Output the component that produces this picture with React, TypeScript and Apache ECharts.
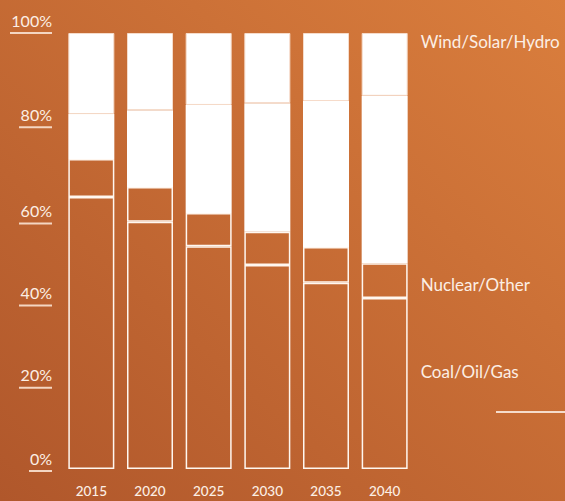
import React, { useEffect, useRef } from "react";
import * as echarts from "echarts";

const years = ["2015", "2020", "2025", "2030", "2035", "2040"];
const coalOilGas = [62.4, 56.7, 51.1, 46.8, 42.7, 39.2];
const nuclearOther = [8.7, 8.0, 7.6, 7.6, 8.2, 8.0];
const renewLower = [10.3, 17.6, 24.8, 29.5, 33.5, 38.4];
const renewUpper = [18.6, 17.7, 16.5, 16.1, 15.6, 14.4];
const yTickLabels = ["0%", "20%", "40%", "60%", "80%", "100%"];

// per-tick spacer heights (style only) to mimic the hand-placed labels
const labelTopPad = [0, 0, 0, 8, 0, 0];
const labelBottomPad = [20, 12, 2, 0, 10, 24];

const FONT = "Lato, 'Open Sans', sans-serif";
const TXT = "#fcefe5";

export default function App() {
  const ref = useRef<HTMLDivElement>(null);
  useEffect(() => {
    if (!ref.current) return;
    const chart = echarts.init(ref.current, null, { renderer: "svg" });
    const last = years.length - 1;
    const withEndLabel = (arr: number[], offsetY: number) =>
      arr.map((v, i) =>
        i === last
          ? {
              value: v,
              label: {
                show: true,
                position: "right",
                distance: 13,
                offset: [0, offsetY],
                formatter: "{a}",
                color: TXT,
                fontSize: 17,
                fontFamily: FONT,
              },
            }
          : v
      );
    const rich: any = {
      t: { fontSize: 16, fontFamily: FONT, color: TXT, lineHeight: 24, height: 24 },
      u3: { width: 42, height: 2, lineHeight: 2, backgroundColor: "#f4d6c2" },
      u2: { width: 33, height: 2, lineHeight: 2, backgroundColor: "#f4d6c2" },
      u1: { width: 23, height: 2, lineHeight: 2, backgroundColor: "#f4d6c2" },
    };
    labelTopPad.forEach((h, i) => {
      if (h > 0) rich["s" + i] = { height: h, lineHeight: h };
    });
    labelBottomPad.forEach((h, i) => {
      if (h > 0) rich["b" + i] = { height: h, lineHeight: h };
    });
    const barBorder = { color: "transparent", borderColor: "#fff7f0", borderWidth: 1.5 };
    chart.setOption({
      animation: false,
      backgroundColor: new echarts.graphic.LinearGradient(0, 1, 1, 0, [
        { offset: 0, color: "#b0572b" },
        { offset: 1, color: "#da7e3d" },
      ]),
      grid: { left: 62, right: 151, top: 33, bottom: 32, outerBoundsMode: "none" },
      xAxis: {
        type: "category",
        data: years,
        axisLine: { show: false },
        axisTick: { show: false },
        axisLabel: { color: TXT, fontSize: 13.5, fontFamily: FONT, fontWeight: 500, margin: 15 },
      },
      yAxis: {
        type: "value",
        min: 0,
        max: 100,
        interval: 20,
        splitLine: { show: false },
        axisLine: { show: false },
        axisTick: { show: false },
        axisLabel: {
          margin: 10,
          showMinLabel: true,
          showMaxLabel: true,
          hideOverlap: false,
          verticalAlign: "middle",
          formatter: (v: number) => {
            const i = Math.round(v / 20);
            const txt = yTickLabels[i];
            const u = "u" + (txt.length - 1);
            const parts: string[] = [];
            if (labelTopPad[i] > 0) parts.push(`{s${i}|}`);
            parts.push(`{t|${txt}}`);
            parts.push(`{${u}|}`);
            if (labelBottomPad[i] > 0) parts.push(`{b${i}|}`);
            return parts.join("\n");
          },
          rich,
        },
      },
      series: [
        {
          name: "Coal/Oil/Gas",
          type: "bar",
          stack: "all",
          barWidth: 46,
          itemStyle: barBorder,
          data: withEndLabel(coalOilGas, -12),
        },
        {
          name: "Nuclear/Other",
          type: "bar",
          stack: "all",
          barWidth: 46,
          itemStyle: barBorder,
          data: withEndLabel(nuclearOther, 4),
        },
        {
          name: "Renewables",
          type: "bar",
          stack: "all",
          barWidth: 46,
          itemStyle: { color: "#ffffff", borderColor: "#ffffff", borderWidth: 0 },
          data: renewLower,
        },
        {
          name: "Wind/Solar/Hydro",
          type: "bar",
          stack: "all",
          barWidth: 46,
          itemStyle: { color: "#ffffff", borderColor: "#f6dccb", borderWidth: 1 },
          data: withEndLabel(renewUpper, -23),
        },
      ],
      graphic: [
        {
          type: "line",
          shape: { x1: 496, y1: 412, x2: 565, y2: 412 },
          style: { stroke: "#f5dccb", lineWidth: 2 },
        },
      ],
    });
    return () => chart.dispose();
  }, []);
  return (
    <div
      ref={ref}
      style={{ position: "fixed", left: 0, top: 0, width: 565, height: 501 }}
    />
  );
}
